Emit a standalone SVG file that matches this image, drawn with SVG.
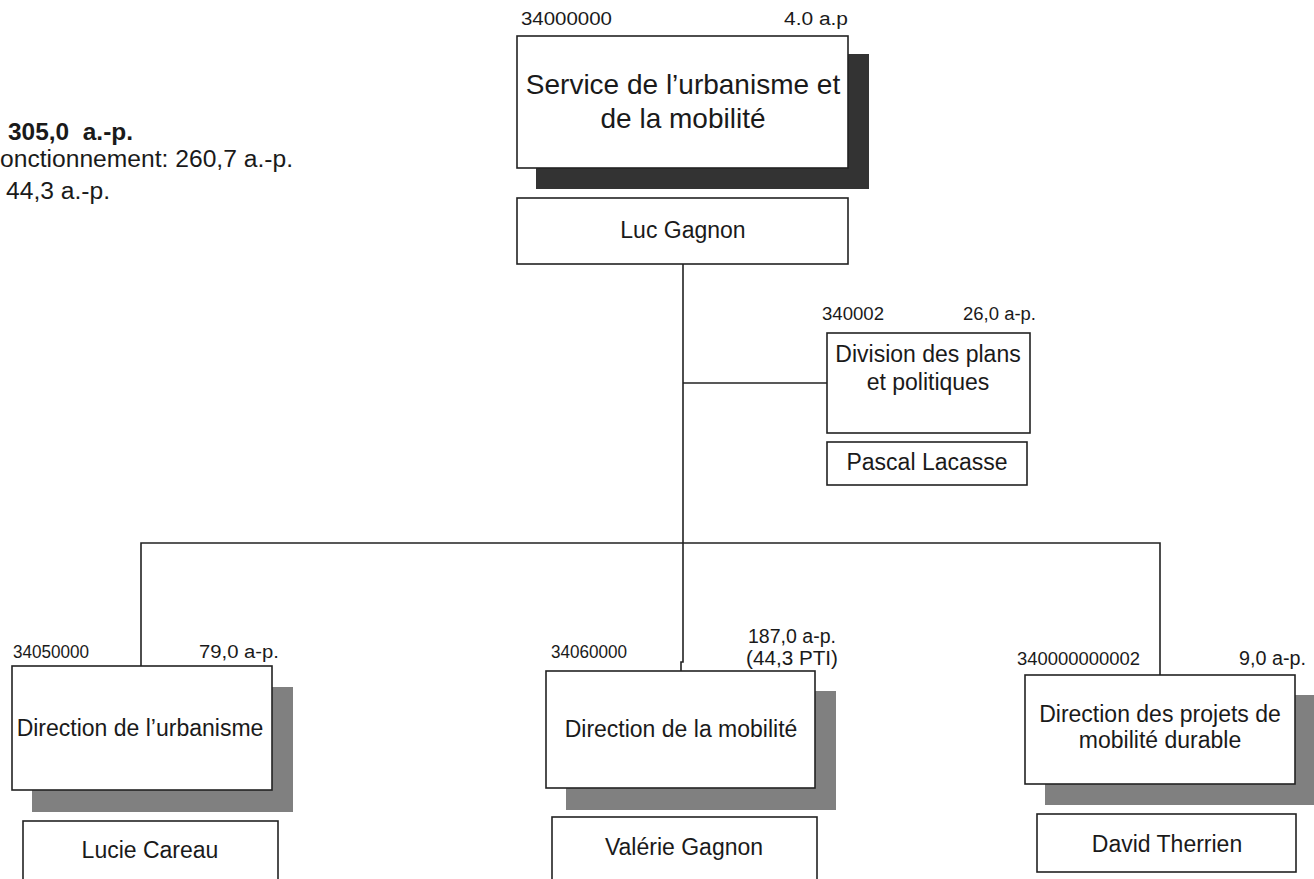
<svg xmlns="http://www.w3.org/2000/svg" width="1314" height="879" viewBox="0 0 1314 879">
<style>
text{font-family:"Liberation Sans",Arial,sans-serif;fill:#1a1a1a}
.box{fill:#fff;stroke:#222;stroke-width:1.6}
.sh{fill:#808080}
.shd{fill:#333}
.conn{fill:none;stroke:#222;stroke-width:1.6}
.lbl{font-size:18px}
.big{font-size:28px}
.mid{font-size:23px}
.c{text-anchor:middle}
.r{text-anchor:end}
</style>
<rect width="1314" height="879" fill="#fff"/>
<g id="summary">
<text x="8" y="140" font-size="23" font-weight="bold" xml:space="preserve" textLength="125" lengthAdjust="spacingAndGlyphs">305,0  a.-p.</text>
<text x="0" y="167" font-size="23" textLength="293" lengthAdjust="spacingAndGlyphs">onctionnement: 260,7 a.-p.</text>
<text x="6" y="199" font-size="23" textLength="104" lengthAdjust="spacingAndGlyphs">44,3 a.-p.</text>
</g>
<g id="connectors">
<path class="conn" d="M683 264 V662 H681 V671"/>
<path class="conn" d="M683 383 H827"/>
<path class="conn" d="M141 666 V543 H1160 V675"/>
</g>
<g id="service">
<rect class="shd" x="536" y="54" width="333" height="135"/>
<rect class="box" x="517" y="36" width="331" height="132"/>
<text class="lbl" x="521" y="25" textLength="91" lengthAdjust="spacingAndGlyphs">34000000</text>
<text class="lbl" x="784" y="25" textLength="64" lengthAdjust="spacingAndGlyphs">4.0 a.p</text>
<text class="big c" x="683" y="94">Service de l’urbanisme et</text>
<text class="big c" x="683" y="128">de la mobilité</text>
</g>
<g id="luc-gagnon">
<rect class="box" x="517" y="198" width="331" height="66"/>
<text class="mid c" x="683" y="238">Luc Gagnon</text>
</g>
<g id="division">
<rect class="box" x="827" y="333" width="203" height="100"/>
<text class="lbl" x="822" y="320" textLength="62" lengthAdjust="spacingAndGlyphs">340002</text>
<text class="lbl" x="963" y="320" textLength="73" lengthAdjust="spacingAndGlyphs">26,0 a-p.</text>
<text class="mid c" x="928" y="362">Division des plans</text>
<text class="mid c" x="928" y="390">et politiques</text>
</g>
<g id="pascal-lacasse">
<rect class="box" x="827" y="442" width="200" height="43"/>
<text class="mid c" x="927" y="470">Pascal Lacasse</text>
</g>
<g id="dir-urbanisme">
<rect class="sh" x="32" y="687" width="261" height="125"/>
<rect class="box" x="12" y="666" width="260" height="124"/>
<text class="lbl" x="13" y="658" textLength="76" lengthAdjust="spacingAndGlyphs">34050000</text>
<text class="lbl" x="199" y="658" font-size="20" textLength="80" lengthAdjust="spacingAndGlyphs">79,0 a-p.</text>
<text class="mid c" x="140" y="736">Direction de l’urbanisme</text>
</g>
<g id="lucie-careau">
<rect class="box" x="23" y="821" width="255" height="70"/>
<text class="mid c" x="150" y="858">Lucie Careau</text>
</g>
<g id="dir-mobilite">
<rect class="sh" x="566" y="691" width="270" height="119"/>
<rect class="box" x="546" y="671" width="269" height="117"/>
<text class="lbl" x="551" y="658" textLength="76" lengthAdjust="spacingAndGlyphs">34060000</text>
<text x="748" y="643" font-size="20" textLength="88" lengthAdjust="spacingAndGlyphs">187,0 a-p.</text>
<text x="746" y="665" font-size="20" textLength="92" lengthAdjust="spacingAndGlyphs">(44,3 PTI)</text>
<text class="mid c" x="681" y="737">Direction de la mobilité</text>
</g>
<g id="valerie-gagnon">
<rect class="box" x="552" y="817" width="265" height="74"/>
<text class="mid c" x="684" y="855">Valérie Gagnon</text>
</g>
<g id="dir-projets">
<rect class="sh" x="1045" y="695" width="280" height="110"/>
<rect class="box" x="1025" y="675" width="270" height="109"/>
<text class="lbl" x="1017" y="665" textLength="123" lengthAdjust="spacingAndGlyphs">340000000002</text>
<text x="1239" y="665" font-size="20" textLength="67" lengthAdjust="spacingAndGlyphs">9,0 a-p.</text>
<text class="mid c" x="1160" y="722">Direction des projets de</text>
<text class="mid c" x="1160" y="748">mobilité durable</text>
</g>
<g id="david-therrien">
<rect class="box" x="1037" y="814" width="259" height="58"/>
<text class="mid c" x="1167" y="852">David Therrien</text>
</g>
</svg>
